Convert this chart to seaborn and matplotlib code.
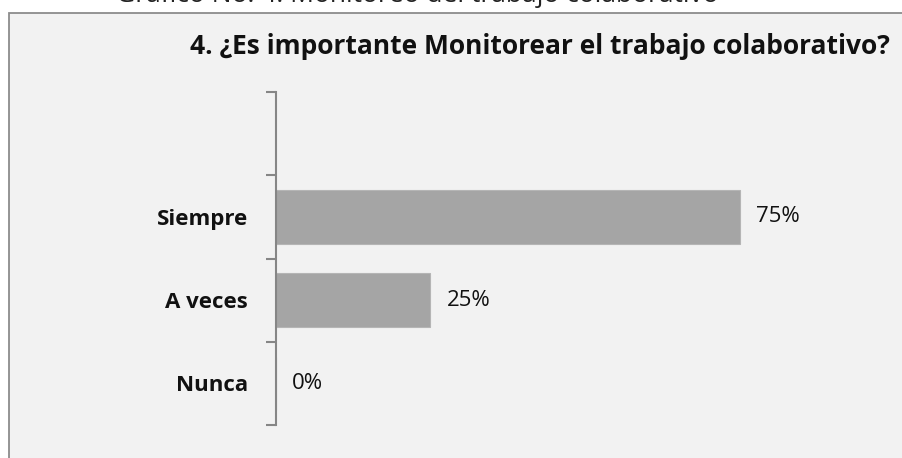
import numpy as np
import pandas as pd
import matplotlib
matplotlib.use("Agg")
import matplotlib.pyplot as plt
from matplotlib.patches import Rectangle
import seaborn as sns

# data
categorias = ["Siempre", "A veces", "Nunca"]
porcentajes = [75, 25, 0]
titulo = "4. ¿Es importante Monitorear el trabajo colaborativo?"
caption = "Gráfico No. 4: Monitoreo del trabajo colaborativo"

df = pd.DataFrame({"cat": categorias, "pct": porcentajes})

sns.set_style("white")
plt.rcParams["font.family"] = ["Open Sans", "DejaVu Sans"]

W, H = 903, 458
fig = plt.figure(figsize=(W / 100, H / 100), dpi=100)
fig.patch.set_facecolor("white")

# chart frame
box = Rectangle((9 / W, -0.01), 1.0, 1 - 13 / H + 0.01, transform=fig.transFigure,
                facecolor="#F2F2F2", edgecolor="#8C8C8C", linewidth=1.3, zorder=-5)
fig.patches.append(box)

# caption, cut off at the top like the source
fig.text(417 / W, 1 - 1.5 / H, caption, ha="center", va="baseline", fontsize=19, color="#222222")

ax = fig.add_axes([276 / W, 1 - 425 / H, 618 / W, 333 / H])
ax.set_zorder(2)
ax.set_facecolor("none")

sns.barplot(data=df, x="pct", y="cat", orient="h", color="#A5A5A5", width=0.64,
            saturation=1, ax=ax, edgecolor="#B5B5B5", linewidth=0.8)

ax.set_xlim(0, 100)
ax.set_ylim(2.5, -1.5)

for i, v in enumerate(porcentajes):
    ax.text(v + 2.6, i, f"{v}%", va="center", ha="left", fontsize=16, color="#111111")

ax.set_xlabel("")
ax.set_ylabel("")
ax.set_xticks([])
ax.set_yticks(range(len(categorias)))
ax.set_yticklabels(categorias, fontsize=16, fontweight="bold", color="#111111")
ax.tick_params(axis="y", which="major", length=0, pad=20)
ax.set_yticks(np.arange(-1.5, 3.0, 1.0), minor=True)
ax.tick_params(axis="y", which="minor", left=True, length=7, width=1.5,
               color="#868686", direction="out")

for s in ["top", "right", "bottom"]:
    ax.spines[s].set_visible(False)
ax.spines["left"].set_color("#868686")
ax.spines["left"].set_linewidth(1.5)

fig.text(890 / W, 1 - 46 / H, titulo, ha="right", va="center", fontsize=19,
         fontweight="bold", color="#111111")

fig.savefig("out.png", dpi=100, facecolor=fig.get_facecolor())
